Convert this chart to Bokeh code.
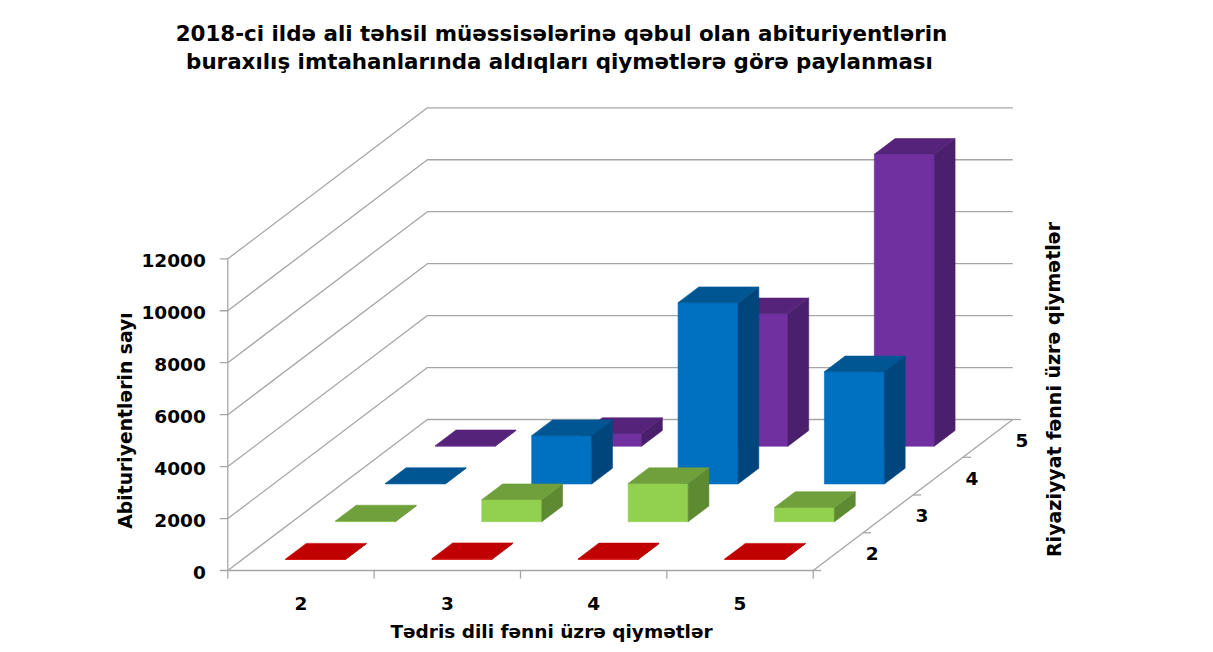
from bokeh.plotting import figure
from bokeh.models import Range1d
from bokeh.embed import file_html
from bokeh.resources import INLINE
from bokeh.core.properties import value

# ---------------- data ----------------
title_lines = ["2018-ci ildə ali təhsil müəssisələrinə qəbul olan abituriyentlərin",
               "buraxılış imtahanlarında aldıqları qiymətlərə görə paylanması"]
x_labels = ["2", "3", "4", "5"]          # Tədris dili fənni üzrə qiymətlər
depth_labels = ["2", "3", "4", "5"]      # Riyaziyyat fənni üzrə qiymətlər
y_ticks = [0, 2000, 4000, 6000, 8000, 10000, 12000]
x_title = "Tədris dili fənni üzrə qiymətlər"
y_title = "Abituriyentlərin sayı"
z_title = "Riyaziyyat fənni üzrə qiymətlər"

riyaz_2 = [15, 30, 25, 15]
riyaz_3 = [30, 850, 1470, 550]
riyaz_4 = [20, 1860, 6980, 4320]
riyaz_5 = [20, 490, 5100, 11240]
series = [riyaz_2, riyaz_3, riyaz_4, riyaz_5]

# colours: (front, top, side)
colors = [
    ("#E00000", "#C00000", "#A00000"),
    ("#92D050", "#70A03C", "#5E8A32"),
    ("#0070C0", "#005593", "#00467C"),
    ("#7030A0", "#55237A", "#4A1F6B"),
]

# ---------------- geometry ----------------
W, H = 1205, 644
SX = 146.35                 # px per category
VPP = 2000 / 51.95          # value units per px
OX = 227.3                  # origin x (canvas px from left)
OY = H - 570.0              # origin y (canvas px from bottom)
KX = 49.9 / SX              # depth shift per row (x)
KY = 37.75 * VPP            # depth shift per row (y)
BW = 0.41                   # bar width (category fraction)
BD = 0.416                  # bar depth (row fraction)
NZ = len(depth_labels)
NX = len(x_labels)
ymax = max(y_ticks)


def proj(x, z, v):
    return x + z * KX, v + z * KY


def scr(sx, sy):
    # canvas pixel -> data coordinate (for label placement)
    return (sx - OX) / SX, (H - sy - OY) * VPP


p = figure(width=W, height=H, output_backend="svg", toolbar_location=None,
           x_range=Range1d(-OX / SX, (W - OX) / SX),
           y_range=Range1d(-OY * VPP, (H - OY) * VPP),
           x_axis_type=None, y_axis_type=None, min_border=0)
p.outline_line_color = None
p.background_fill_color = "white"
p.border_fill_color = "white"

GRID = "#A6A6A6"
# walls grid
xs, ys = [], []
for v in y_ticks:
    a = proj(0, 0, v); b = proj(0, NZ, v); c = proj(NX, NZ, v)
    xs.append([a[0], b[0], c[0]]); ys.append([a[1], b[1], c[1]])
# floor front, right edge, left vertical axis
for (p0, p1) in [((0, 0, 0), (NX, 0, 0)), ((NX, 0, 0), (NX, NZ, 0)), ((0, 0, 0), (0, 0, ymax))]:
    a = proj(*p0); b = proj(*p1)
    xs.append([a[0], b[0]]); ys.append([a[1], b[1]])
# ticks
T = 8
for v in y_ticks:
    a = proj(0, 0, v)
    xs.append([a[0], a[0] - T / SX]); ys.append([a[1], a[1]])
for i in range(NX + 1):
    a = proj(i, 0, 0)
    xs.append([a[0], a[0]]); ys.append([a[1], a[1] - T * VPP])
for k in range(NZ + 1):
    a = proj(NX, k, 0)
    xs.append([a[0], a[0] + T / SX]); ys.append([a[1], a[1]])
p.multi_line(xs, ys, line_color=GRID, line_width=1.3)

# bars
pxs, pys, pcs = [], [], []
for k in range(NZ - 1, -1, -1):
    vals = series[k]
    fc, tc, sc = colors[k]
    z0 = k + 0.5 - BD / 2
    z1 = k + 0.5 + BD / 2
    for i, v in enumerate(vals):
        x0 = i + 0.5 - BW / 2
        x1 = i + 0.5 + BW / 2
        faces = [
            ([(x0, z0, 0), (x1, z0, 0), (x1, z0, v), (x0, z0, v)], fc),
            ([(x1, z0, 0), (x1, z1, 0), (x1, z1, v), (x1, z0, v)], sc),
            ([(x0, z0, v), (x1, z0, v), (x1, z1, v), (x0, z1, v)], tc),
        ]
        for pts, col in faces:
            pp = [proj(*q) for q in pts]
            pxs.append([q[0] for q in pp]); pys.append([q[1] for q in pp]); pcs.append(col)
p.patches(pxs, pys, fill_color=pcs, line_color=pcs, line_width=0.6)

FONT = value("DejaVu Sans")
# y tick labels
tx = [proj(0, 0, v)[0] for v in y_ticks]
ty = [proj(0, 0, v)[1] for v in y_ticks]
p.text(tx, ty, text=[str(v) for v in y_ticks], text_font=FONT, text_font_style="bold",
       text_font_size="18.5px", text_align="right", text_baseline="middle",
       x_offset=-22, y_offset=2, text_color="black")
# x labels
lx = [proj(i + 0.5, 0, 0)[0] for i in range(NX)]
ly = [proj(i + 0.5, 0, 0)[1] for i in range(NX)]
p.text(lx, ly, text=x_labels, text_font=FONT, text_font_style="bold",
       text_font_size="18.5px", text_align="center", text_baseline="middle",
       y_offset=33, text_color="black")
# depth labels
dx_ = [proj(NX, k + 0.5, 0)[0] for k in range(NZ)]
dy_ = [proj(NX, k + 0.5, 0)[1] for k in range(NZ)]
p.text(dx_, dy_, text=depth_labels, text_font=FONT, text_font_style="bold",
       text_font_size="18.5px", text_align="center", text_baseline="middle",
       x_offset=34, y_offset=2, text_color="black")

# titles
for line, (sx, sy) in zip(title_lines, [(561, 32.7), (559, 60.7)]):
    x, y = scr(sx, sy)
    p.text([x], [y], text=[line], text_font=FONT, text_font_style="bold",
           text_font_size="21.4px", text_align="center", text_baseline="alphabetic",
           text_color="black")
x, y = scr(551, 631)
p.text([x], [y], text=[x_title], text_font=FONT, text_font_style="bold",
       text_font_size="18.5px", text_align="center", text_baseline="middle", text_color="black")
x, y = scr(125, 420)
p.text([x], [y], text=[y_title], text_font=FONT, text_font_style="bold", angle=1.5708,
       text_font_size="18.8px", text_align="center", text_baseline="middle", text_color="black")
x, y = scr(1053, 389)
p.text([x], [y], text=[z_title], text_font=FONT, text_font_style="bold", angle=1.5708,
       text_font_size="19px", text_align="center", text_baseline="middle", text_color="black")

open("out.html", "w").write(file_html(p, INLINE))
